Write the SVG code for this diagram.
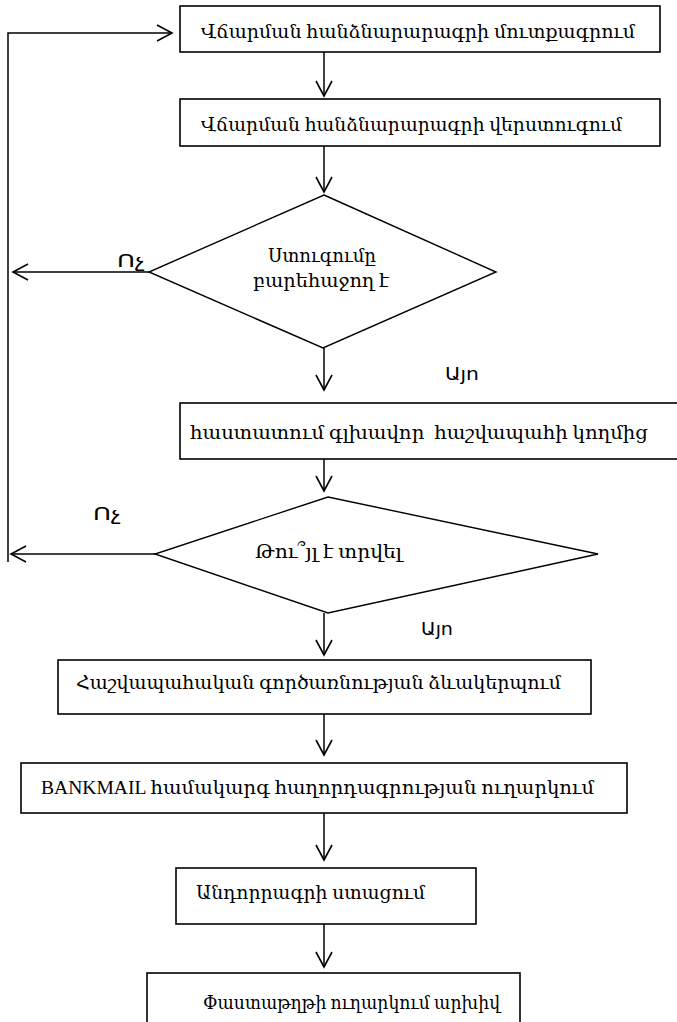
<svg xmlns="http://www.w3.org/2000/svg" width="677" height="1022" viewBox="0 0 677 1022">
<style>
.box{fill:#fff;stroke:#000;stroke-width:1.6}
.dia{fill:#fff;stroke:#000;stroke-width:1.4}
.ln{fill:none;stroke:#000;stroke-width:1.5}
.t{font-family:"Liberation Serif","DejaVu Serif","Noto Sans",serif;font-size:19px;fill:#000;white-space:pre}
.lbl{font-family:"DejaVu Sans","Noto Sans",sans-serif;font-size:17px;fill:#000}
</style>
<defs>
<marker id="ah" markerUnits="userSpaceOnUse" markerWidth="20" markerHeight="20" viewBox="0 0 20 20" refX="16" refY="10" orient="auto">
<path d="M1,2 L16,10 L1,18" fill="none" stroke="#000" stroke-width="1.6"/>
</marker>
</defs>
<rect width="677" height="1022" fill="#fff"/>
<g id="connectors">
<path class="ln" d="M8,562 L8,33 L172,33" marker-end="url(#ah)"/>
<path class="ln" d="M324,52 L324,96" marker-end="url(#ah)"/>
<path class="ln" d="M324,146 L324,192" marker-end="url(#ah)"/>
<path class="ln" d="M149,272 L13,272" marker-end="url(#ah)"/>
<path class="ln" d="M324,348 L324,390" marker-end="url(#ah)"/>
<path class="ln" d="M324,459 L324,491" marker-end="url(#ah)"/>
<path class="ln" d="M158,554 L11,554" marker-end="url(#ah)"/>
<path class="ln" d="M324,613 L324,655" marker-end="url(#ah)"/>
<path class="ln" d="M324,714 L324,755" marker-end="url(#ah)"/>
<path class="ln" d="M324,813 L324,860" marker-end="url(#ah)"/>
<path class="ln" d="M324,924 L324,967" marker-end="url(#ah)"/>
<text class="lbl" x="117" y="267" textLength="28" lengthAdjust="spacingAndGlyphs">Ոչ</text>
<text class="lbl" x="445" y="380" textLength="34" lengthAdjust="spacingAndGlyphs">Այո</text>
<text class="lbl" x="93" y="520" textLength="28" lengthAdjust="spacingAndGlyphs">Ոչ</text>
<text class="lbl" x="421" y="635" textLength="32" lengthAdjust="spacingAndGlyphs">Այո</text>
</g>
<g id="n1">
<rect class="box" x="180" y="6" width="480" height="46"/>
<text class="t" x="201" y="38" textLength="434" lengthAdjust="spacingAndGlyphs">Վճարման հանձնարարագրի մուտքագրում</text>
</g>
<g id="n2">
<rect class="box" x="180" y="99" width="480" height="47"/>
<text class="t" x="201" y="131" textLength="421" lengthAdjust="spacingAndGlyphs">Վճարման հանձնարարագրի վերստուգում</text>
</g>
<g id="n3">
<polygon class="dia" points="324,195 496,272 323,348 149,272"/>
<text class="t" x="268" y="262" textLength="108" lengthAdjust="spacingAndGlyphs">Ստուգումը</text>
<text class="t" x="253" y="287" textLength="136" lengthAdjust="spacingAndGlyphs">բարեհաջող է</text>
</g>
<g id="n4">
<rect class="box" x="180" y="403" width="502" height="56"/>
<text class="t" x="190" y="439" textLength="458" lengthAdjust="spacingAndGlyphs">հաստատում գլխավոր  հաշվապահի կողմից</text>
</g>
<g id="n5">
<polygon class="dia" points="328,497 598,554 328,613 155,554"/>
<text class="t" x="255" y="558" textLength="147" lengthAdjust="spacingAndGlyphs">Թու՞յլ է տրվել</text>
</g>
<g id="n6">
<rect class="box" x="58" y="660" width="533" height="54"/>
<text class="t" x="76" y="689" textLength="485" lengthAdjust="spacingAndGlyphs">Հաշվապահական գործառնության ձևակերպում</text>
</g>
<g id="n7">
<rect class="box" x="21" y="763" width="606" height="50"/>
<text class="t" x="41" y="794" textLength="553" lengthAdjust="spacingAndGlyphs">BANKMAIL համակարգ հաղորդագրության ուղարկում</text>
</g>
<g id="n8">
<rect class="box" x="176" y="868" width="300" height="56"/>
<text class="t" x="196" y="899" textLength="229" lengthAdjust="spacingAndGlyphs">Անդորրագրի ստացում</text>
</g>
<g id="n9">
<rect class="box" x="147" y="973" width="373" height="60"/>
<text class="t" x="203" y="1009" textLength="297" lengthAdjust="spacingAndGlyphs">Փաստաթղթի ուղարկում արխիվ</text>
</g>
</svg>
